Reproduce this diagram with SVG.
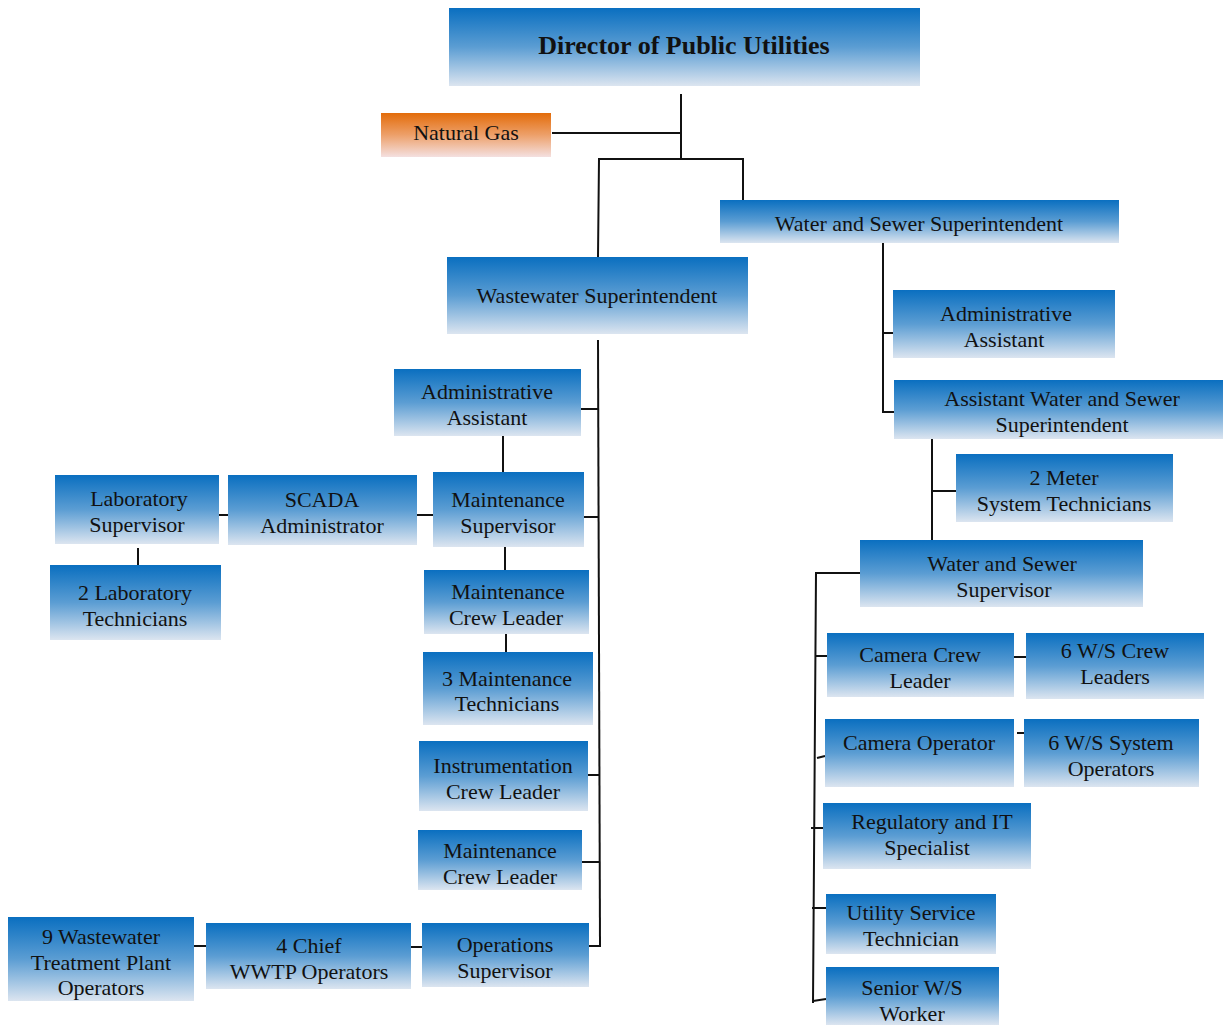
<svg xmlns="http://www.w3.org/2000/svg" width="1223" height="1025" viewBox="0 0 1223 1025">
  <defs>
    <linearGradient id="blue" x1="0" y1="0" x2="0" y2="1">
      <stop offset="0" stop-color="#0a6fc0"/>
      <stop offset="0.5" stop-color="#5b9dd3"/>
      <stop offset="1" stop-color="#dce5f0"/>
    </linearGradient>
    <linearGradient id="orange" x1="0" y1="0" x2="0" y2="1">
      <stop offset="0" stop-color="#e36c0a"/>
      <stop offset="0.5" stop-color="#eda06a"/>
      <stop offset="1" stop-color="#f4e0e0"/>
    </linearGradient>
  </defs>
  <style>
    .box { fill: url(#blue); }
    .gas { fill: url(#orange); }
    text { font-family: Liberation Serif, Times New Roman, serif; font-size: 22px; fill: #111; text-anchor: middle; }
    .title { font-size: 26px; font-weight: bold; }
    .conn line, .conn polyline { stroke: #111; stroke-width: 2; fill: none; }
  </style>
  <rect width="1223" height="1025" fill="#ffffff"/>

  <!-- connectors -->
  <g class="conn">
    <line x1="681" y1="94" x2="681" y2="159"/>
    <line x1="552" y1="133" x2="681" y2="133"/>
    <polyline points="598,257 599,159 743,159 743,200"/>
    <!-- wastewater trunk -->
    <line x1="598" y1="340" x2="600" y2="946"/>
    <line x1="581" y1="409" x2="598" y2="409"/>
    <line x1="503" y1="436" x2="503" y2="472"/>
    <line x1="584" y1="517" x2="598" y2="517"/>
    <line x1="417" y1="515" x2="433" y2="515"/>
    <line x1="219" y1="515" x2="228" y2="515"/>
    <line x1="138" y1="548" x2="138" y2="565"/>
    <line x1="505" y1="547" x2="505" y2="570"/>
    <line x1="506" y1="634" x2="506" y2="652"/>
    <line x1="588" y1="775" x2="599" y2="775"/>
    <line x1="582" y1="862" x2="600" y2="862"/>
    <line x1="589" y1="946" x2="601" y2="946"/>
    <line x1="411" y1="947" x2="422" y2="947"/>
    <line x1="194" y1="946" x2="206" y2="946"/>
    <!-- water and sewer trunk -->
    <polyline points="883,243 883,412 894,412"/>
    <line x1="883" y1="333" x2="893" y2="333"/>
    <line x1="932" y1="439" x2="932" y2="540"/>
    <line x1="932" y1="491" x2="956" y2="491"/>
    <polyline points="860,573 816,573 813,1003"/>
    <line x1="815" y1="656" x2="827" y2="656"/>
    <line x1="817" y1="758" x2="825" y2="756"/>
    <line x1="811" y1="828" x2="823" y2="828"/>
    <line x1="812" y1="908" x2="826" y2="908"/>
    <line x1="813" y1="1001" x2="826" y2="999"/>
    <line x1="1014" y1="657" x2="1028" y2="657"/>
    <line x1="1017" y1="733" x2="1031" y2="733"/>
  </g>

  <g id="director">
    <rect class="box" x="449" y="8" width="471" height="78"/>
    <text class="title" font-family="Liberation Serif" x="684" y="54">Director of Public Utilities</text>
  </g>
  <g id="natural-gas">
    <rect class="gas" x="381" y="113" width="170" height="44"/>
    <text font-family="Liberation Serif" x="466" y="140">Natural Gas</text>
  </g>
  <g id="ws-superintendent">
    <rect class="box" x="720" y="200" width="399" height="43"/>
    <text font-family="Liberation Serif" x="919" y="231">Water and Sewer Superintendent</text>
  </g>
  <g id="ww-superintendent">
    <rect class="box" x="447" y="257" width="301" height="77"/>
    <text font-family="Liberation Serif" x="597" y="303">Wastewater Superintendent</text>
  </g>

  <!-- wastewater branch -->
  <g id="ww-admin">
    <rect class="box" x="394" y="369" width="187" height="67"/>
    <text font-family="Liberation Serif" x="487" y="399">Administrative</text>
    <text font-family="Liberation Serif" x="487" y="425">Assistant</text>
  </g>
  <g id="maint-supervisor">
    <rect class="box" x="433" y="472" width="151" height="75"/>
    <text font-family="Liberation Serif" x="508" y="507">Maintenance</text>
    <text font-family="Liberation Serif" x="508" y="533">Supervisor</text>
  </g>
  <g id="scada">
    <rect class="box" x="228" y="475" width="189" height="70"/>
    <text font-family="Liberation Serif" x="322" y="507">SCADA</text>
    <text font-family="Liberation Serif" x="322" y="533">Administrator</text>
  </g>
  <g id="lab-supervisor">
    <rect class="box" x="55" y="475" width="164" height="69"/>
    <text font-family="Liberation Serif" x="139" y="506">Laboratory</text>
    <text font-family="Liberation Serif" x="137" y="532">Supervisor</text>
  </g>
  <g id="lab-techs">
    <rect class="box" x="50" y="565" width="171" height="75"/>
    <text font-family="Liberation Serif" x="135" y="600">2 Laboratory</text>
    <text font-family="Liberation Serif" x="135" y="626">Technicians</text>
  </g>
  <g id="maint-crew-leader-1">
    <rect class="box" x="424" y="570" width="165" height="64"/>
    <text font-family="Liberation Serif" x="508" y="599">Maintenance</text>
    <text font-family="Liberation Serif" x="506" y="625">Crew Leader</text>
  </g>
  <g id="maint-techs">
    <rect class="box" x="423" y="652" width="170" height="73"/>
    <text font-family="Liberation Serif" x="507" y="686">3 Maintenance</text>
    <text font-family="Liberation Serif" x="507" y="711">Technicians</text>
  </g>
  <g id="instrumentation">
    <rect class="box" x="419" y="741" width="169" height="70"/>
    <text font-family="Liberation Serif" x="503" y="773">Instrumentation</text>
    <text font-family="Liberation Serif" x="503" y="799">Crew Leader</text>
  </g>
  <g id="maint-crew-leader-2">
    <rect class="box" x="418" y="830" width="164" height="60"/>
    <text font-family="Liberation Serif" x="500" y="858">Maintenance</text>
    <text font-family="Liberation Serif" x="500" y="884">Crew Leader</text>
  </g>
  <g id="ops-supervisor">
    <rect class="box" x="422" y="923" width="167" height="64"/>
    <text font-family="Liberation Serif" x="505" y="952">Operations</text>
    <text font-family="Liberation Serif" x="505" y="978">Supervisor</text>
  </g>
  <g id="chief-operators">
    <rect class="box" x="206" y="923" width="205" height="66"/>
    <text font-family="Liberation Serif" x="309" y="953">4 Chief</text>
    <text font-family="Liberation Serif" x="309" y="979">WWTP Operators</text>
  </g>
  <g id="plant-operators">
    <rect class="box" x="8" y="917" width="186" height="84"/>
    <text font-family="Liberation Serif" x="101" y="944">9 Wastewater</text>
    <text font-family="Liberation Serif" x="101" y="970">Treatment Plant</text>
    <text font-family="Liberation Serif" x="101" y="995">Operators</text>
  </g>

  <!-- water and sewer branch -->
  <g id="ws-admin">
    <rect class="box" x="893" y="290" width="222" height="68"/>
    <text font-family="Liberation Serif" x="1006" y="321">Administrative</text>
    <text font-family="Liberation Serif" x="1004" y="347">Assistant</text>
  </g>
  <g id="asst-superintendent">
    <rect class="box" x="894" y="380" width="329" height="59"/>
    <text font-family="Liberation Serif" x="1062" y="406">Assistant Water and Sewer</text>
    <text font-family="Liberation Serif" x="1062" y="432">Superintendent</text>
  </g>
  <g id="meter-techs">
    <rect class="box" x="956" y="454" width="217" height="68"/>
    <text font-family="Liberation Serif" x="1064" y="485">2 Meter</text>
    <text font-family="Liberation Serif" x="1064" y="511">System Technicians</text>
  </g>
  <g id="ws-supervisor">
    <rect class="box" x="860" y="540" width="283" height="67"/>
    <text font-family="Liberation Serif" x="1002" y="571">Water and Sewer</text>
    <text font-family="Liberation Serif" x="1004" y="597">Supervisor</text>
  </g>
  <g id="camera-crew-leader">
    <rect class="box" x="827" y="633" width="187" height="64"/>
    <text font-family="Liberation Serif" x="920" y="662">Camera Crew</text>
    <text font-family="Liberation Serif" x="920" y="688">Leader</text>
  </g>
  <g id="ws-crew-leaders">
    <rect class="box" x="1026" y="633" width="178" height="66"/>
    <text font-family="Liberation Serif" x="1115" y="658">6 W/S Crew</text>
    <text font-family="Liberation Serif" x="1115" y="684">Leaders</text>
  </g>
  <g id="camera-operator">
    <rect class="box" x="825" y="719" width="189" height="68"/>
    <text font-family="Liberation Serif" x="919" y="750">Camera Operator</text>
  </g>
  <g id="ws-system-operators">
    <rect class="box" x="1024" y="719" width="175" height="68"/>
    <text font-family="Liberation Serif" x="1111" y="750">6 W/S System</text>
    <text font-family="Liberation Serif" x="1111" y="776">Operators</text>
  </g>
  <g id="regulatory-it">
    <rect class="box" x="823" y="803" width="208" height="66"/>
    <text font-family="Liberation Serif" x="932" y="829">Regulatory and IT</text>
    <text font-family="Liberation Serif" x="927" y="855">Specialist</text>
  </g>
  <g id="utility-service">
    <rect class="box" x="826" y="894" width="170" height="60"/>
    <text font-family="Liberation Serif" x="911" y="920">Utility Service</text>
    <text font-family="Liberation Serif" x="911" y="946">Technician</text>
  </g>
  <g id="senior-ws-worker">
    <rect class="box" x="826" y="967" width="173" height="58"/>
    <text font-family="Liberation Serif" x="912" y="995">Senior W/S</text>
    <text font-family="Liberation Serif" x="912" y="1021">Worker</text>
  </g>
</svg>
